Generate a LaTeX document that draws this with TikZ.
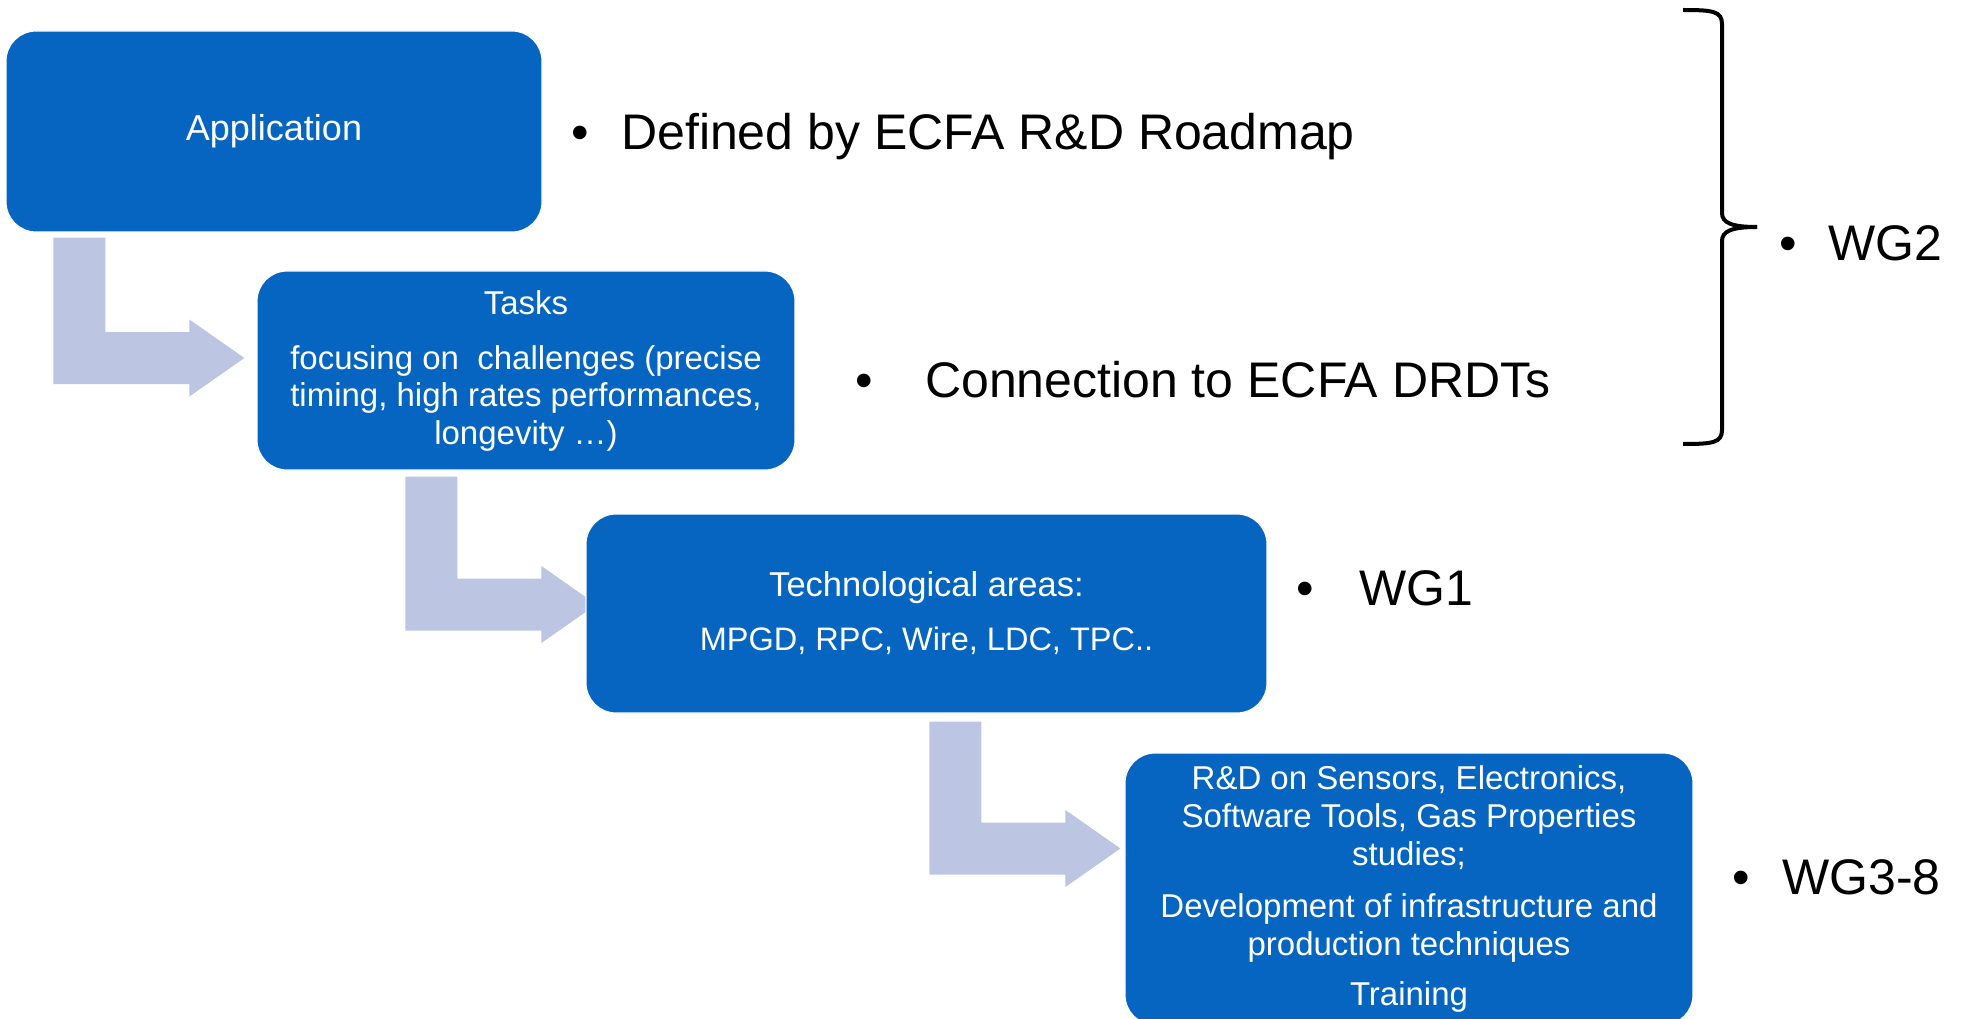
\documentclass[tikz,border=0pt]{standalone}
\usepackage{fontspec}
\setmainfont{Liberation Sans}
\usetikzlibrary{calc,backgrounds}
\definecolor{boxblue}{RGB}{5,101,192}
\definecolor{arrowfill}{RGB}{188,198,226}
\newcommand\bentarr[2]{\fill[arrowfill] (#1) -- ++(52,0) |- ($(#2)+(-55,-26)$) -- ++(0,-12.5) -- (#2) -- ++(-55,38.5) -- ++(0,-12.5) -| (#1) -- cycle;}
\begin{document}
\begin{tikzpicture}[x=1pt,y=-1pt,
  box/.style={draw=white, line width=1.2pt, fill=boxblue, rounded corners=30pt,
    text=white, align=center, inner sep=0pt},
  lbl/.style={anchor=base west, text=black, inner sep=0pt, font=\fontsize{50}{60}\selectfont},
  dotlbl/.style={anchor=base, text=black, inner sep=0pt, font=\fontsize{50}{60}\selectfont},
  brace/.style={draw=black, line width=4pt}]
\useasboundingbox (0,0) rectangle (1963,1019);
\clip (0,0) rectangle (1963,1019);

% boxes
\node[box, minimum width=536pt, minimum height=201pt, font=\fontsize{36}{43}\selectfont]
  (app) at (274,131.5) {Application};
\node[box, minimum width=538pt, minimum height=199pt, font=\fontsize{33}{37.5}\selectfont]
  (tasks) at (526,370.5) {Tasks\\[17.5pt]focusing on\ \ challenges (precise\\timing, high rates performances,\\longevity …)};
\node[box, minimum width=681pt, minimum height=199pt, font=\fontsize{32.5}{40}\selectfont]
  (tech) at (926.5,613.5) {{\fontsize{34.5}{40}\selectfont Technological areas:}\\[14pt]MPGD, RPC, Wire, LDC, TPC..};
\node[box, minimum width=568pt, minimum height=272pt, font=\fontsize{33}{38}\selectfont]
  (rd) at (1409,889) {R\&D on Sensors, Electronics,\\Software Tools, Gas Properties\\studies;\\[14pt]Development of infrastructure and\\production techniques\\[12pt]Training};

% bent block arrows, behind the boxes
\coordinate (a1s) at ($(app.south west)+(48,5)$);
\coordinate (a1t) at ($(tasks.west)+(-12,-12.5)$);
\coordinate (a2s) at ($(tasks.south west)+(149,6)$);
\coordinate (a2t) at ($(tech.west)+(11,-9)$);
\coordinate (a3s) at ($(tech.south west)+(344,8)$);
\coordinate (a3t) at ($(rd.west)+(-4,-40.5)$);
\begin{pgfonlayer}{background}
\bentarr{a1s}{a1t}
\bentarr{a2s}{a2t}
\bentarr{a3s}{a3t}
\end{pgfonlayer}

% labels
\node[dotlbl] (b1) at (580,150) {•};
\node[lbl] (t1) at (621,150) {Defined by ECFA R\&D Roadmap};
\node[dotlbl] (b2) at (864,397) {•};
\node[lbl] (t2) at (925,397) {Connection to ECFA DRDTs};
\node[dotlbl] (b3) at (1305,605) {•};
\node[lbl] (t3) at (1359,605) {WG1};
\node[dotlbl] (b4) at (1788,261) {•};
\node[lbl] (t4) at (1828,261) {WG2};
\node[dotlbl] (b5) at (1741,894) {•};
\node[lbl] (t5) at (1782,894) {WG3-8};

% brace
\draw[brace] (1683,10) .. controls (1712,10) and (1722,11) .. (1722,24) -- (1722,213)
  .. controls (1722,223) and (1732,227) .. (1757,227);
\draw[brace] (1757,227) .. controls (1732,227) and (1722,231) .. (1722,241) -- (1722,430)
  .. controls (1722,443) and (1712,444) .. (1683,444);
\end{tikzpicture}
\end{document}
